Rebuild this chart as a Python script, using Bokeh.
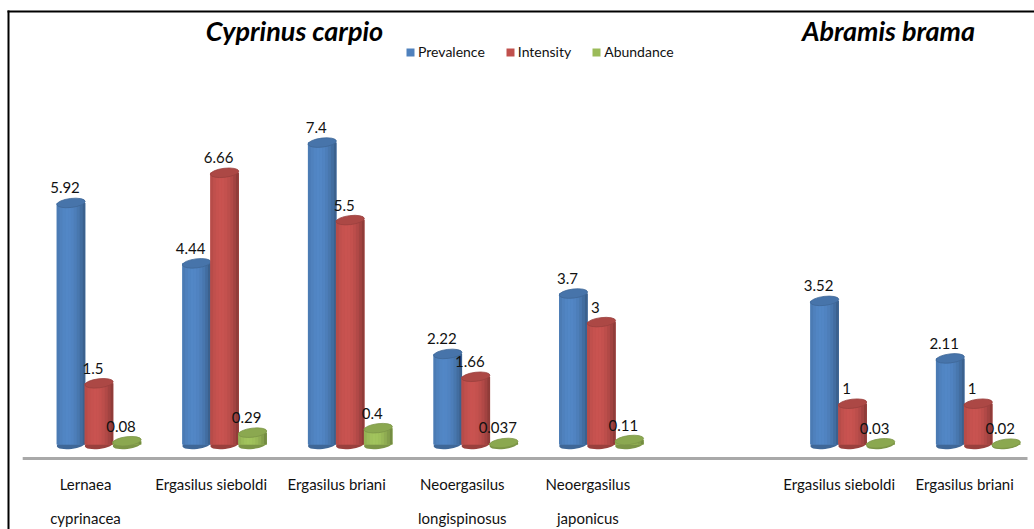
import numpy as np
from bokeh.plotting import figure
from bokeh.models import Range1d, ColumnDataSource, Legend, LegendItem, Label
from bokeh.transform import dodge
from bokeh.core.properties import value
from bokeh.embed import file_html
from bokeh.resources import INLINE

# ---------------- data ----------------
hosts = ["Cyprinus carpio"] * 5 + ["Abramis brama"] * 2
parasites = ["Lernaea cyprinacea", "Ergasilus sieboldi", "Ergasilus briani",
             "Neoergasilus longispinosus", "Neoergasilus japonicus",
             "Ergasilus sieboldi", "Ergasilus briani"]
tick_labels = ["Lernaea\ncyprinacea", "Ergasilus sieboldi", "Ergasilus briani",
               "Neoergasilus\nlongispinosus", "Neoergasilus\njaponicus",
               "Ergasilus sieboldi", "Ergasilus briani"]
series_names = ["Prevalence", "Intensity", "Abundance"]
prevalence = [5.92, 4.44, 7.4, 2.22, 3.7, 3.52, 2.11]
intensity = [1.5, 6.66, 5.5, 1.66, 3, 1, 1]
abundance = [0.08, 0.29, 0.4, 0.037, 0.11, 0.03, 0.02]
series_values = [prevalence, intensity, abundance]
series_colors = ["#4f81bd", "#c0504d", "#9bbb59"]

FONT = "Lato"

# ---------------- layout / scales ----------------
W, H = 1034, 529
PX_X = 125.6          # px per category slot
FIRST_X = 85          # canvas px of first category centre
PX_Y = 40.8           # px per unit
ZERO_Y = 444          # canvas px of value 0 (from top)

x_start = -FIRST_X / PX_X
x_end = x_start + W / PX_X
y_end = ZERO_Y / PX_Y
y_start = y_end - H / PX_Y

# slot index per category, with an empty slot between host species
slots = []
s, prev = 0, None
for h in hosts:
    if prev is not None and h != prev:
        s += 1
    slots.append(s)
    s += 1
    prev = h

p = figure(width=W, height=H, x_range=Range1d(x_start, x_end),
           y_range=Range1d(y_start, y_end), output_backend="svg",
           toolbar_location=None, x_axis_location=None, y_axis_location=None,
           min_border=0)
p.grid.visible = False
p.outline_line_color = None
p.background_fill_color = "white"
p.border_fill_color = "white"


def hex2rgb(c):
    c = c.lstrip("#")
    return np.array([int(c[i:i + 2], 16) for i in (0, 2, 4)], dtype=float)


def rgb2hex(a):
    a = np.clip(a, 0, 255).astype(int)
    return "#%02x%02x%02x" % tuple(a)


def shade(c, f):
    return rgb2hex(hex2rgb(c) * f)


bar_px = 28.5
bar_w = bar_px / PX_X
offsets_px = [-14.5, 13.5, 41.5]
n_strips = 10

legend_items = []
for k, (name, vals, col) in enumerate(zip(series_names, series_values, series_colors)):
    src = ColumnDataSource(dict(x=slots, top=vals, label=[f"{v:g}" for v in vals],
                                zero=[0] * len(vals)))
    off = offsets_px[k] / PX_X
    # bottom rounded end
    p.ellipse(x=dodge("x", off, range=p.x_range), y="zero", width=bar_px, height=9,
              width_units="screen", height_units="screen", angle=0.12,
              fill_color=shade(col, 0.8), line_color=None, source=src)
    # main body
    r = p.vbar(x=dodge("x", off, range=p.x_range), top="top", bottom=0, width=bar_w,
               fill_color=col, line_color=None, source=src)
    legend_items.append(LegendItem(label=name, renderers=[r]))
    # shading strips
    sw = bar_w / n_strips
    for i in range(n_strips):
        t = -1 + (2 * i + 1) / n_strips
        light = 1 - 0.9 * (t + 0.25) ** 2
        f = 0.8 + 0.25 * light
        p.vbar(x=dodge("x", off - bar_w / 2 + sw * (i + 0.5), range=p.x_range),
               top="top", bottom=0, width=sw * 1.02,
               fill_color=shade(col, f), line_color=None, source=src)
    # top face
    p.ellipse(x=dodge("x", off, range=p.x_range), y="top", width=bar_px, height=9,
              width_units="screen", height_units="screen", angle=0.12,
              fill_color=shade(col, 0.9), line_color=shade(col, 0.8), line_width=0.8,
              source=src)
    # value labels
    p.text(x=dodge("x", off, range=p.x_range), y="top", text="label", source=src,
           x_offset=-6, y_offset=-15, text_align="center", text_baseline="alphabetic",
           text_font=value(FONT), text_font_size="15px", text_color="#111111")

# floor line
p.segment(x0=[min(slots) - 0.5], y0=[-14 / PX_Y], x1=[max(slots) + 0.5], y1=[-14 / PX_Y],
          line_color="#a9a9a9", line_width=3)

# category labels
p.text(x=slots, y=[0] * len(slots), text=tick_labels, y_offset=30,
       text_align="center", text_baseline="top", text_font=value(FONT),
       text_font_size="15px", text_line_height=1.9, text_color="#111111")

# host titles
title_px = {"Cyprinus carpio": 294, "Abramis brama": 888}
for h in dict.fromkeys(hosts):
    p.add_layout(Label(x=title_px[h], y=H - 30, x_units="screen", y_units="screen",
                       text=h, text_align="center", text_baseline="alphabetic",
                       text_font=FONT, text_font_size="27px",
                       text_font_style="bold italic", text_color="black"))

# legend
legend = Legend(items=legend_items, orientation="horizontal", location=(405, 469),
                label_text_font=FONT, label_text_font_size="14px",
                label_text_color="#111111", glyph_width=10, glyph_height=10,
                label_standoff=3, spacing=20, padding=0, margin=0,
                background_fill_alpha=0, border_line_color=None)
p.add_layout(legend)

# chart border (left and top)
bx = x_start + 8 / PX_X
by = y_end - 11 / PX_Y
p.segment(x0=[bx, bx], y0=[y_start, by], x1=[bx, x_end], y1=[by, by],
          line_color="black", line_width=2, line_cap="square")

open("out.html", "w").write(file_html(p, INLINE))
